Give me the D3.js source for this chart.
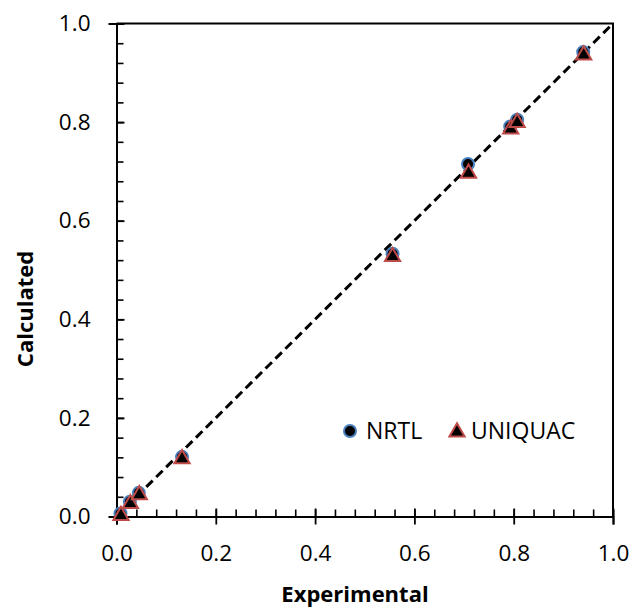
<!DOCTYPE html>
<html>
<head>
<meta charset="utf-8">
<script src="https://cdn.jsdelivr.net/npm/d3@7"></script>
<style>
  html, body { margin: 0; padding: 0; background: #fff; }
  svg { display: block; }
  text { font-family: "Open Sans", "Liberation Sans", sans-serif; fill: #000; }
</style>
</head>
<body>
<svg id="chart" width="632" height="609"></svg>
<script>
// Experimental vs calculated mole fractions for the two activity models
const nrtlExp  = [0.008, 0.027, 0.045, 0.132, 0.556, 0.708, 0.793, 0.807, 0.940];
const nrtlCalc = [0.006, 0.030, 0.048, 0.121, 0.533, 0.715, 0.791, 0.805, 0.942];
const uniquacExp  = [0.009, 0.028, 0.046, 0.132, 0.556, 0.709, 0.794, 0.807, 0.941];
const uniquacCalc = [0.004, 0.028, 0.046, 0.119, 0.529, 0.698, 0.788, 0.801, 0.938];
const majorTicks = [0, 0.2, 0.4, 0.6, 0.8, 1.0];
const minorTicks = d3.range(0, 1.0001, 0.04);
const seriesNames = ["NRTL", "UNIQUAC"];
const axisTitles = { x: "Experimental", y: "Calculated" };

const svg = d3.select("#chart");
const plotLeft = 116.5, plotRight = 613, plotTop = 23.5, plotBottom = 516.5;

const x = d3.scaleLinear().domain([0, 1]).range([plotLeft, plotRight]);
const y = d3.scaleLinear().domain([0, 1]).range([plotBottom, plotTop]);

// frame: top and right edges
svg.append("path")
  .attr("d", `M${plotLeft},${plotTop}H${plotRight}V${plotBottom}`)
  .attr("fill", "none").attr("stroke", "#000").attr("stroke-width", 2);

// minor ticks (inside)
const xMinor = d3.axisTop(x).tickValues(minorTicks).tickSize(7).tickFormat("");
svg.append("g").attr("transform", `translate(0,${plotBottom})`).call(xMinor)
  .call(g => g.select(".domain").remove())
  .selectAll("line").attr("stroke", "#000").attr("stroke-width", 1.6);
const yMinor = d3.axisRight(y).tickValues(minorTicks).tickSize(7).tickFormat("");
svg.append("g").attr("transform", `translate(${plotLeft},0)`).call(yMinor)
  .call(g => g.select(".domain").remove())
  .selectAll("line").attr("stroke", "#000").attr("stroke-width", 1.6);

// major ticks (crossing) with labels
const xAxis = d3.axisBottom(x).tickValues(majorTicks).tickSize(8).tickPadding(21)
  .tickFormat(d3.format(".1f"));
const gx = svg.append("g").attr("transform", `translate(0,${plotBottom})`).call(xAxis);
gx.select(".domain").attr("stroke", "#000").attr("stroke-width", 2);
gx.selectAll(".tick line").attr("y1", -8).attr("stroke", "#000").attr("stroke-width", 1.8);
gx.selectAll(".tick text").attr("font-size", 22.5).attr("font-family", "Open Sans");

const yAxis = d3.axisLeft(y).tickValues(majorTicks).tickSize(8).tickPadding(18)
  .tickFormat(d3.format(".1f"));
const gy = svg.append("g").attr("transform", `translate(${plotLeft},0)`).call(yAxis);
gy.select(".domain").attr("stroke", "#000").attr("stroke-width", 2);
gy.selectAll(".tick line").attr("x2", 8).attr("stroke", "#000").attr("stroke-width", 1.8);
gy.selectAll(".tick text").attr("font-size", 22.5).attr("font-family", "Open Sans");

// parity line
svg.append("line")
  .attr("x1", x(0)).attr("y1", y(0)).attr("x2", x(1)).attr("y2", y(1))
  .attr("stroke", "#000").attr("stroke-width", 3).attr("stroke-dasharray", "9,5");

const triangle = d3.symbol().type(d3.symbolTriangle).size(100);

// NRTL circles
svg.append("g").selectAll("circle")
  .data(nrtlExp.map((v, i) => [v, nrtlCalc[i]]))
  .join("circle")
  .attr("cx", d => x(d[0])).attr("cy", d => y(d[1])).attr("r", 6)
  .attr("fill", "#000").attr("stroke", "#4a7ebb").attr("stroke-width", 2);

// UNIQUAC triangles
svg.append("g").selectAll("path")
  .data(uniquacExp.map((v, i) => [v, uniquacCalc[i]]))
  .join("path")
  .attr("d", triangle)
  .attr("transform", d => `translate(${x(d[0])},${y(d[1]) + 1})`)
  .attr("fill", "#000").attr("stroke", "#be4b48").attr("stroke-width", 2);

// legend
const lg = svg.append("g");
lg.append("circle").attr("cx", 350).attr("cy", 431).attr("r", 6)
  .attr("fill", "#000").attr("stroke", "#4a7ebb").attr("stroke-width", 2);
lg.append("text").attr("x", 366).attr("y", 439).attr("font-size", 23).text(seriesNames[0]);
lg.append("path").attr("d", triangle).attr("transform", "translate(457,432)")
  .attr("fill", "#000").attr("stroke", "#be4b48").attr("stroke-width", 2);
lg.append("text").attr("x", 471).attr("y", 439).attr("font-size", 23).text(seriesNames[1]);

// axis titles
svg.append("text").attr("x", 355).attr("y", 602).attr("text-anchor", "middle")
  .attr("font-size", 22).attr("font-weight", "bold").text(axisTitles.x);
svg.append("text").attr("transform", "translate(33,309) rotate(-90)")
  .attr("text-anchor", "middle").attr("font-size", 22).attr("font-weight", "bold")
  .text(axisTitles.y);
</script>
</body>
</html>
